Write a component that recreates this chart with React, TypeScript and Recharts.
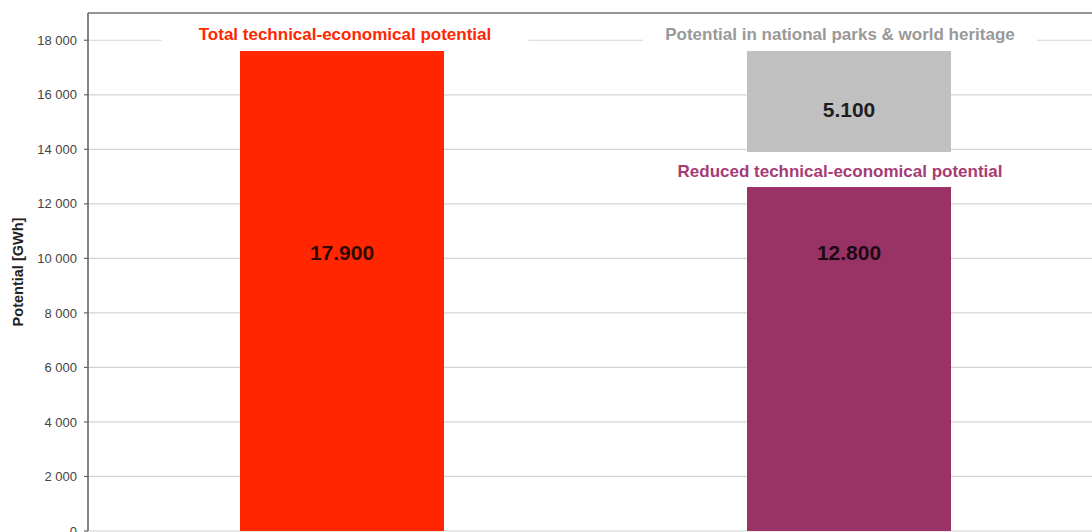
import React from 'react';
import {
  BarChart,
  Bar,
  XAxis,
  YAxis,
  CartesianGrid,
  ReferenceLine,
  ReferenceDot,
  LabelList,
} from 'recharts';

// Hydropower potential, GWh
const categories = ['Total', 'Reduced'];
const totalPotential = [17900, null];
const reducedPotential = [null, 12800];
const parksPotential = [null, 5100];
const yTicks = [0, 2000, 4000, 6000, 8000, 10000, 12000, 14000, 16000, 18000];
const yMax = 19000;

const seriesTitles = {
  total: 'Total technical-economical potential',
  parks: 'Potential in national parks & world heritage',
  reduced: 'Reduced technical-economical potential',
};

const data = categories.map((name, i) => ({
  name,
  total: totalPotential[i],
  reduced: reducedPotential[i],
  parks: parksPotential[i],
}));

const FONT = '"Liberation Sans", Arial, Helvetica, sans-serif';

const fmtTick = (v: number) => v.toLocaleString('en-US').replace(/,/g, ' ');
const fmtValue = (v: number) => v.toLocaleString('en-US').replace(/,/g, '.');

// Value text placed at the 10 200 level inside the lower bars
const lowLabel = (props: any) => {
  const { x, y, width, height, value } = props;
  if (!value) return null;
  const bottom = y + height;
  const py = bottom - height * (10200 / value);
  return (
    <text
      x={x + width / 2}
      y={py}
      textAnchor="middle"
      dominantBaseline="central"
      fontFamily={FONT}
      fontWeight="bold"
      fontSize={21}
      fill="#000"
      fillOpacity={0.82}
    >
      {fmtValue(value)}
    </text>
  );
};

const midLabel = (props: any) => {
  const { x, y, width, height, value } = props;
  if (!value) return null;
  return (
    <text
      x={x + width / 2}
      y={y + height / 2 - 3}
      textAnchor="middle"
      dominantBaseline="central"
      fontFamily={FONT}
      fontWeight="bold"
      fontSize={21}
      fill="#000"
      fillOpacity={0.85}
    >
      {fmtValue(value)}
    </text>
  );
};

// White title box drawn over the top of a bar segment
const titleBox =
  (text: string, color: string, w: number, dx: number, top: number, h: number, ty: number) =>
  (props: any) => {
    const { cx, cy } = props;
    if (cx == null || cy == null) return null;
    return (
      <g>
        <rect x={cx + dx - w / 2} y={cy + top} width={w} height={h} fill="#ffffff" />
        <text
          x={cx + dx}
          y={cy + ty}
          textAnchor="middle"
          dominantBaseline="central"
          fontFamily={FONT}
          fontWeight="bold"
          fontSize={17}
          fill={color}
        >
          {text}
        </text>
      </g>
    );
  };

const yLabel = (props: any) => {
  const vb = props.viewBox || {};
  const cx = (vb.x ?? 0) + 10;
  const cy = (vb.y ?? 0) + (vb.height ?? 0) / 2;
  return (
    <text
      x={cx}
      y={cy}
      transform={`rotate(-90 ${cx} ${cy})`}
      textAnchor="middle"
      dominantBaseline="central"
      fontFamily={FONT}
      fontWeight="bold"
      fontSize={14.5}
      fill="#222"
    >
      Potential [GWh]
    </text>
  );
};

export default function App() {
  return (
    <div
      style={{
        position: 'fixed',
        left: 0,
        top: 0,
        width: 1092,
        height: 532,
        padding: 8,
        boxSizing: 'border-box',
        overflow: 'hidden',
        background: '#fff',
      }}
    >
      <BarChart
        width={1100}
        height={560}
        data={data}
        margin={{ top: 5, right: 6, bottom: 37, left: 0 }}
        barSize={204}
      >
        <CartesianGrid vertical={false} stroke="#d4d4d4" strokeWidth={1.2} />
        <XAxis dataKey="name" hide />
        <YAxis
          width={80}
          domain={[0, yMax]}
          ticks={yTicks}
          tickFormatter={fmtTick}
          interval={0}
          axisLine={{ stroke: '#666', strokeWidth: 1.6 }}
          tickLine={{ stroke: '#666', strokeWidth: 1.2 }}
          tickSize={4}
          tickMargin={7}
          tick={{ fontFamily: FONT, fontSize: 13, fill: '#444' }}
          label={yLabel}
        />
        <ReferenceLine y={yMax} stroke="#777" strokeWidth={1.6} />
        <Bar dataKey="total" stackId="p" fill="#ff2600" isAnimationActive={false}>
          <LabelList dataKey="total" content={lowLabel} />
        </Bar>
        <Bar dataKey="reduced" stackId="p" fill="#993366" isAnimationActive={false}>
          <LabelList dataKey="reduced" content={lowLabel} />
        </Bar>
        <Bar dataKey="parks" stackId="p" fill="#c0c0c0" isAnimationActive={false}>
          <LabelList dataKey="parks" content={midLabel} />
        </Bar>
        <ReferenceDot
          x={categories[0]}
          y={totalPotential[0] as number}
          r={0}
          shape={titleBox(seriesTitles.total, '#ff2600', 367, 3.5, -27, 35, -8)}
        />
        <ReferenceDot
          x={categories[1]}
          y={(reducedPotential[1] as number) + (parksPotential[1] as number)}
          r={0}
          shape={titleBox(seriesTitles.parks, '#999999', 394, -8.5, -27, 35, -8)}
        />
        <ReferenceDot
          x={categories[1]}
          y={reducedPotential[1] as number}
          r={0}
          shape={titleBox(seriesTitles.reduced, '#a63c74', 394, -8.5, -30, 35, -11)}
        />
      </BarChart>
    </div>
  );
}
